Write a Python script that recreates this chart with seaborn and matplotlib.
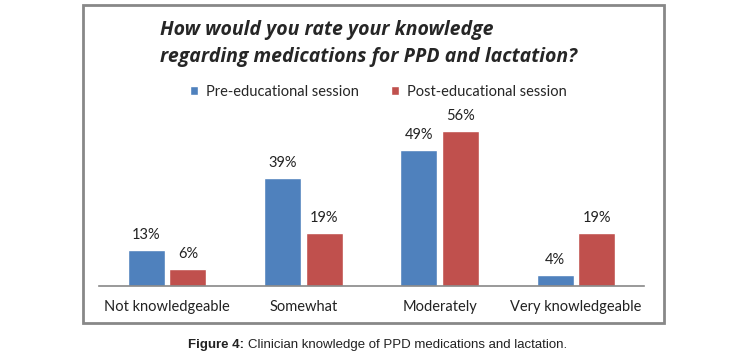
import numpy as np
import pandas as pd
import seaborn as sns
from matplotlib import pyplot as plt
from matplotlib.patches import Rectangle

categories = ['Not knowledgeable', 'Somewhat', 'Moderately', 'Very knowledgeable']
pre_session = [13, 39, 49, 4]
post_session = [6, 19, 56, 19]
series_names = ['Pre-educational session', 'Post-educational session']

df = pd.DataFrame({
    'category': categories * 2,
    'value': pre_session + post_session,
    'session': [series_names[0]] * 4 + [series_names[1]] * 4,
})

sns.set_style('white')
plt.rcParams['font.family'] = ['Lato', 'DejaVu Sans']

fig = plt.figure(figsize=(7.56, 3.6), dpi=100)
W, H = 756, 360
ax = fig.add_axes([99 / W, (H - 286) / H, 545 / W, 166 / H])

sns.barplot(data=df, x='category', y='value', hue='session',
            palette=['#4F81BD', '#C0504D'], width=0.61, gap=0.11,
            saturation=1, ax=ax, legend=True)

for cont in ax.containers:
    ax.bar_label(cont, labels=[f'{v:.0f}%' for v in cont.datavalues],
                 padding=6, fontsize=10.5, color='#222222')

ax.set_xlim(-0.5, 3.5)
ax.set_ylim(0, 60)
ax.set_xlabel('')
ax.set_ylabel('')
ax.set_yticks([])
ax.tick_params(axis='x', length=0, pad=10, labelsize=10.5, labelcolor='#222222')
for s in ['top', 'right', 'left']:
    ax.spines[s].set_visible(False)
ax.spines['bottom'].set_color('#888888')
ax.spines['bottom'].set_linewidth(1.2)

handles, labels = ax.get_legend_handles_labels()
ax.legend(handles, labels, loc='center', bbox_to_anchor=(378 / W, (H - 92) / H),
          bbox_transform=fig.transFigure, ncol=2, frameon=False,
          fontsize=10.5, handlelength=0.6, handleheight=0.6,
          handletextpad=0.5, columnspacing=2.2)

fig.text(160 / W, (H - 30) / H, 'How would you rate your knowledge',
         fontsize=14, fontweight='bold', fontstyle='italic', va='center',
         family=['Open Sans', 'DejaVu Sans'])
fig.text(160 / W, (H - 57) / H, 'regarding medications for PPD and lactation?',
         fontsize=14, fontweight='bold', fontstyle='italic', va='center',
         family=['Open Sans', 'DejaVu Sans'])

fig.patches.append(Rectangle((83 / W, (H - 323) / H), 581 / W, 318 / H,
                             transform=fig.transFigure, fill=False,
                             edgecolor='#888888', linewidth=2))

cap_y = (H - 345) / H
cap_x = 248 / W
fig.text(cap_x, cap_y, 'Figure 4: ', fontsize=9.5, fontweight='bold',
         ha='right', va='center', family=['Liberation Sans'], color='#222222')
fig.text(cap_x, cap_y, 'Clinician knowledge of PPD medications and lactation.',
         fontsize=9.5, ha='left', va='center',
         family=['Liberation Sans'], color='#222222')

fig.savefig('out.png', dpi=100)
